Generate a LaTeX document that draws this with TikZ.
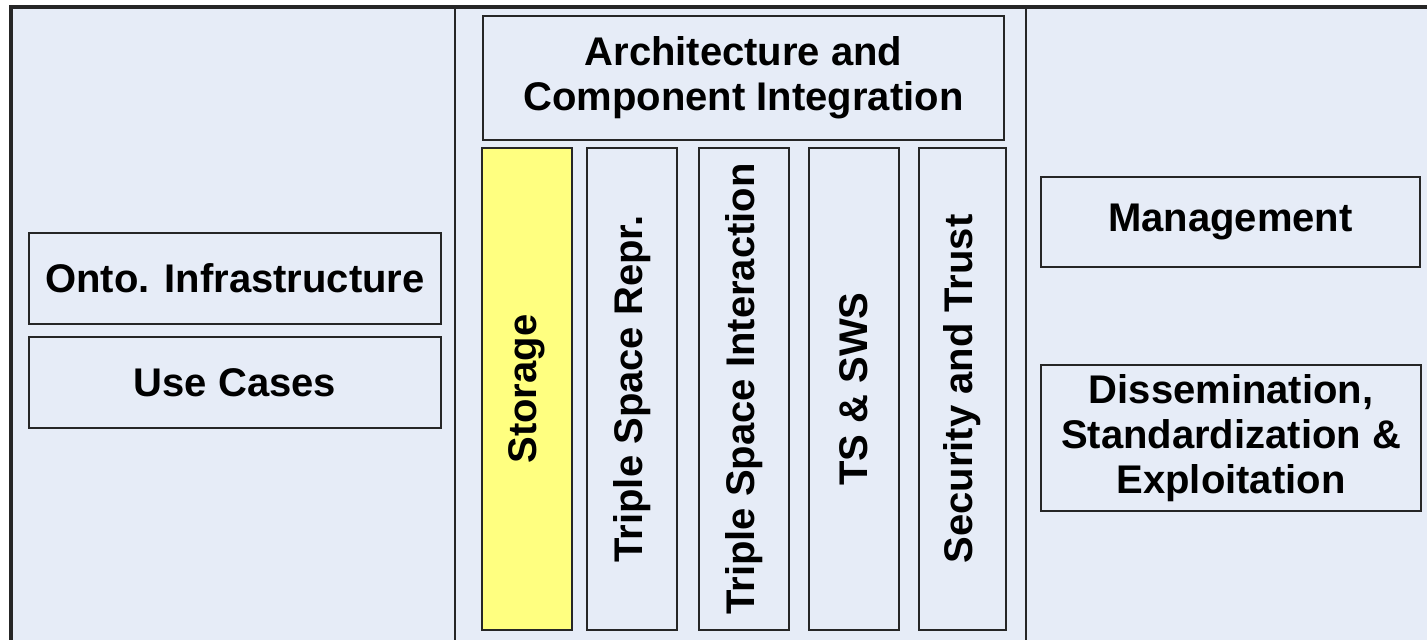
\documentclass[tikz,border=0pt]{standalone}
\usepackage{fontspec}
\setmainfont{Liberation Sans}
\definecolor{panel}{RGB}{230,236,247}
\definecolor{hilite}{RGB}{255,255,128}
\begin{document}
\begin{tikzpicture}[x=0.5pt, y=-0.5pt,
  box/.style={draw=black!85, fill=panel, line width=1pt, inner sep=0pt, align=center,
    font=\fontsize{20}{22.5}\selectfont\bfseries},
  col/.style={draw=black!85, fill=panel, line width=1.2pt},
  wp/.style={box, rotate=90, minimum width=241pt, minimum height=45pt}]
  \useasboundingbox (0,0) rectangle (1427,640);
  \clip (0,0) rectangle (1427,640);

  % outer frame and the three columns
  \draw[col, line width=1.6pt] (11,7) rectangle (1460,660);
  \draw[col] (455,7) -- (455,660);
  \draw[col] (1026,7) -- (1026,660);

  % left column
  \node[box, minimum width=206pt, minimum height=45.5pt] (onto) at (235,278.5) {Onto. Infrastructure};
  \node[box, minimum width=206pt, minimum height=45.5pt] (usecases) at (235,382.5) {Use Cases};

  % middle column
  \node[box, minimum width=260.5pt, minimum height=62pt] (arch) at (743.5,78) {Architecture and\\Component Integration};
  \node[wp, fill=hilite] (storage) at (527,389) {Storage};
  \node[wp] (repr) at (632,389) {Triple Space Repr.};
  \node[wp] (inter) at (744,389) {Triple Space Interaction};
  \node[wp] (sws) at (854,389) {TS \& SWS};
  \node[wp, minimum height=43.5pt] (trust) at (962.5,389) {Security and Trust};

  % right column
  \node[box, minimum width=189.5pt, minimum height=45pt] (mgmt) at (1230.5,222) {Management};
  \node[box, minimum width=190pt, minimum height=73pt] (dissem) at (1231,438) {Dissemination,\\Standardization \&\\Exploitation};
\end{tikzpicture}
\end{document}
